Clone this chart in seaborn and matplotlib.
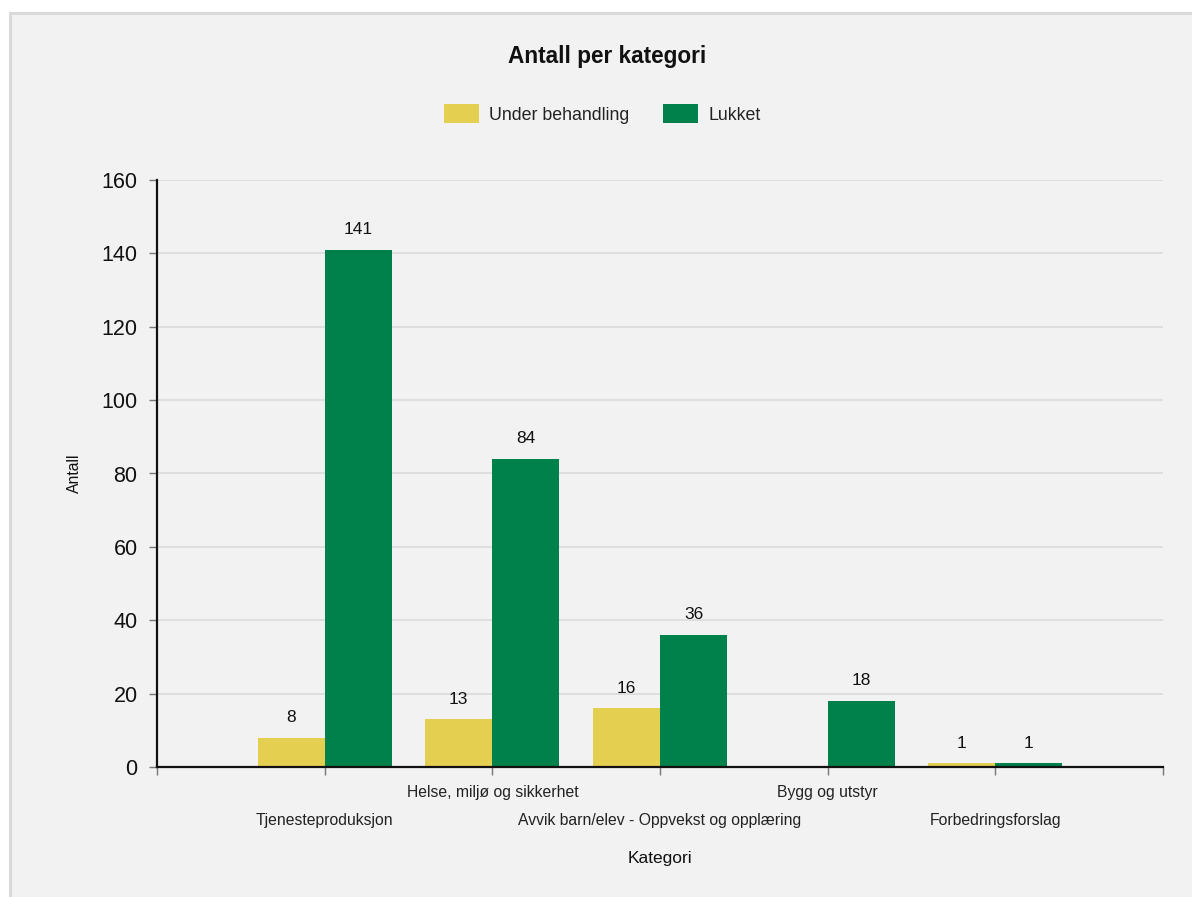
import matplotlib
matplotlib.use("Agg")
import matplotlib.pyplot as plt
from matplotlib.patches import Rectangle
import pandas as pd
import seaborn as sns

# Counts per category and status
categories = [
    "Tjenesteproduksjon",
    "Helse, miljø og sikkerhet",
    "Avvik barn/elev - Oppvekst og opplæring",
    "Bygg og utstyr",
    "Forbedringsforslag",
]
under_behandling = [8, 13, 16, 0, 1]
lukket = [141, 84, 36, 18, 1]
series_names = ["Under behandling", "Lukket"]
y_ticks = [0, 20, 40, 60, 80, 100, 120, 140, 160]

colors = {"Under behandling": "#e5cf50", "Lukket": "#00804a"}

df = pd.DataFrame({
    "Kategori": categories * 2,
    "Status": [series_names[0]] * len(categories) + [series_names[1]] * len(categories),
    "Antall": under_behandling + lukket,
})

sns.set_theme(style="white")
plt.rcParams["font.family"] = ["Liberation Sans", "DejaVu Sans"]

W, H = 1192, 897
fig = plt.figure(figsize=(W / 100, H / 100), dpi=100, facecolor="white")

# Light grey panel behind the chart
fig.patches.append(Rectangle((10 / W, -0.05), 1.1, 1.05 - 13 / H,
                             transform=fig.transFigure, facecolor="#f2f2f2",
                             edgecolor="#d9d9d9", linewidth=2.2, zorder=-10))

ax = fig.add_axes([157 / W, 1 - 767 / H, (1163 - 157) / W, (767 - 180) / H])
ax.set_facecolor("none")

sns.barplot(data=df, x="Kategori", y="Antall", hue="Status", order=categories,
            hue_order=series_names, palette=colors, width=0.8, ax=ax,
            legend=False, saturation=1, edgecolor="none", linewidth=0)

# Value labels above each non-zero bar
for container in ax.containers:
    vals = [b.get_height() for b in container]
    ax.bar_label(container, labels=[f"{v:g}" if v else "" for v in vals],
                 padding=9, fontsize=12.5, color="#111111")

ax.set_ylim(0, 160)
ax.set_yticks(y_ticks)
ax.set_yticklabels([str(t) for t in y_ticks], fontsize=15.5, color="#111111")
ax.set_xlim(-1, len(categories))
ax.set_xticks(range(-1, len(categories) + 1))
ax.set_xticklabels([""] + categories + [""], fontsize=11.3, color="#222222")

# Staggered category labels
for i, tick in enumerate(ax.xaxis.get_major_ticks()):
    cat_idx = i - 1
    tick.set_pad(7 if cat_idx % 2 == 1 else 27)

ax.grid(axis="y", color="#dcdcdc", linewidth=1.3)
ax.set_axisbelow(True)
for s in ["top", "right"]:
    ax.spines[s].set_visible(False)
for s in ["left", "bottom"]:
    ax.spines[s].set_color("#111111")
    ax.spines[s].set_linewidth(1.6)
ax.tick_params(axis="both", which="major", length=6, width=1, color="#777777",
               bottom=True, left=True)
ax.tick_params(axis="y", pad=8)

ax.set_ylabel("Antall", fontsize=11.3, color="#111111", labelpad=14)
ax.set_xlabel("Kategori", fontsize=12.5, color="#111111", labelpad=17)

fig.text(607 / W, 1 - 57 / H, "Antall per kategori", ha="center", va="center",
         fontsize=16.3, fontweight="bold", color="#111111")

handles = [Rectangle((0, 0), 1, 1, facecolor=colors[n], edgecolor="none") for n in series_names]
fig.legend(handles, series_names, loc="center", bbox_to_anchor=(602 / W, 1 - 114 / H),
           ncol=2, frameon=False, fontsize=12.8, handlelength=2.0, handleheight=1.2,
           handletextpad=0.55, columnspacing=1.9, labelcolor="#222222")

fig.savefig("out.png", dpi=100, facecolor="white")
